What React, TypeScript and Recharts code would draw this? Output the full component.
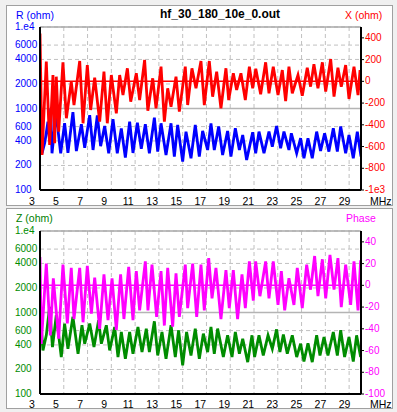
import { LineChart, Line, XAxis, YAxis, CartesianGrid, ReferenceLine } from 'recharts'

// frequency ticks (MHz)
const xTicks = [3, 5, 7, 9, 11, 13, 15, 17, 19, 21, 23, 25, 27, 29]
const logTicks = [100, 200, 400, 600, 1000, 2000, 4000, 6000, 10000]
const xOhmTicks = [-1000, -800, -600, -400, -200, 0, 200, 400]
const phaseTicks = [-100, -80, -60, -40, -20, 0, 20, 40]

// R (ohm), top panel, blue
const rFreq = [3.0, 3.17, 3.4, 3.67, 3.8, 3.9, 4.01, 4.37, 4.55, 4.74, 5.07, 5.35, 5.77, 6.06, 6.48, 6.76, 7.18, 7.46, 7.82, 8.1, 8.44, 8.78, 9.14, 9.5, 9.84, 10.18, 10.54, 10.82, 11.19, 11.52, 11.86, 12.2, 12.62, 12.9, 13.18, 13.6, 14.02, 14.3, 14.58, 15.0, 15.28, 15.7, 16.06, 16.4, 16.68, 17.1, 17.38, 17.66, 18.03, 18.36, 18.78, 19.06, 19.43, 19.77, 20.05, 20.38, 20.89, 21.14, 21.42, 21.84, 22.26, 22.54, 22.9, 23.24, 23.52, 23.94, 24.14, 24.59, 24.92, 25.2, 25.54, 25.9, 26.27, 26.6, 26.94, 27.3, 27.67, 28.01, 28.29, 28.71, 28.99, 29.35, 29.69, 30.0]
const rVals = [930, 282, 380, 690, 410, 1000, 282, 900, 490, 282, 660, 285, 900, 300, 640, 330, 830, 310, 820, 345, 610, 282, 740, 282, 570, 250, 690, 285, 670, 320, 640, 282, 770, 296, 658, 269, 658, 257, 630, 223, 520, 245, 630, 257, 530, 310, 658, 310, 602, 269, 530, 257, 574, 310, 473, 234, 511, 282, 520, 282, 520, 340, 610, 325, 520, 310, 497, 282, 432, 245, 430, 245, 520, 302, 497, 296, 574, 296, 602, 282, 473, 245, 520, 257]

// X (ohm), top panel, red
const xFreq = [3.0, 3.17, 3.53, 3.81, 4.09, 4.23, 4.37, 4.57, 4.93, 5.22, 5.63, 5.86, 6.34, 6.62, 6.98, 7.26, 7.6, 8.02, 8.38, 8.66, 9.0, 9.42, 9.7, 9.98, 10.35, 10.63, 11.1, 11.38, 11.8, 12.07, 12.48, 12.76, 13.18, 13.46, 13.74, 14.02, 14.44, 14.72, 15.22, 15.42, 15.78, 16.12, 16.54, 16.82, 17.24, 17.52, 17.86, 18.22, 18.64, 18.87, 19.26, 19.54, 19.9, 20.27, 20.61, 20.89, 21.15, 21.56, 21.98, 22.26, 22.62, 23.02, 23.38, 23.66, 23.94, 24.22, 24.7, 25.06, 25.48, 25.76, 26.04, 26.38, 26.75, 27.03, 27.45, 27.73, 28.06, 28.34, 28.71, 28.99, 29.41, 29.75, 29.92, 30.0]
const xVals = [440, -678, 181, -586, 58, -570, 43, -463, 175, -340, -3, -218, 187, -386, 150, -264, 34, -371, 89, -386, 58, -294, 58, -126, 120, -187, 74, -172, 196, -270, 28, -248, 135, -371, -64, -233, 43, -279, 135, -218, 120, -64, 187, -218, 187, -141, 89, -248, 120, -172, 74, -80, 74, -172, 135, -64, 115, -119, 175, -110, 135, -126, 104, -181, 135, -110, 58, -132, 126, -49, 157, -64, 175, -95, 205, -141, 126, -49, 150, -162, 135, -126, 104, -80]

// Z (ohm), bottom panel, green
const zFreq = [3.0, 3.25, 3.53, 3.81, 4.05, 4.37, 4.79, 5.07, 5.35, 5.77, 6.2, 6.53, 6.76, 7.18, 7.54, 7.93, 8.16, 8.58, 8.86, 9.28, 9.56, 9.84, 10.18, 10.54, 10.82, 11.24, 11.58, 11.94, 12.2, 12.62, 12.9, 13.26, 13.6, 14.02, 14.38, 14.66, 15.0, 15.33, 15.7, 16.06, 16.4, 16.74, 17.1, 17.38, 17.66, 17.94, 18.42, 18.78, 19.15, 19.43, 19.77, 20.05, 20.47, 20.83, 21.05, 21.42, 21.78, 22.18, 22.54, 22.9, 23.18, 23.47, 23.8, 24.22, 24.59, 24.92, 25.2, 25.54, 25.9, 26.27, 26.55, 26.89, 27.22, 27.67, 28.01, 28.29, 28.62, 28.99, 29.35, 29.63, 29.97]
const zVals = [1070, 343, 525, 1170, 376, 927, 284, 731, 359, 885, 312, 697, 414, 731, 376, 804, 414, 697, 343, 665, 284, 577, 270, 577, 312, 665, 327, 634, 327, 780, 297, 577, 270, 697, 284, 605, 224, 577, 297, 634, 270, 550, 327, 665, 312, 634, 284, 525, 284, 577, 312, 477, 246, 525, 284, 525, 297, 525, 359, 620, 327, 535, 312, 525, 284, 414, 250, 420, 246, 525, 297, 500, 297, 577, 297, 605, 284, 500, 250, 525, 284]

// Phase (deg), bottom panel, magenta
const pFreq = [3.0, 3.11, 3.53, 3.87, 4.12, 4.57, 4.93, 5.3, 5.63, 5.86, 6.34, 6.62, 6.98, 7.32, 7.6, 8.02, 8.38, 8.72, 9.06, 9.42, 9.78, 10.06, 10.46, 10.82, 11.1, 11.38, 11.86, 12.08, 12.42, 12.81, 13.18, 13.46, 13.74, 14.16, 14.44, 14.72, 15.22, 15.42, 15.84, 16.18, 16.54, 16.82, 17.19, 17.47, 17.8, 18.22, 18.64, 18.92, 19.26, 19.62, 19.99, 20.27, 20.61, 20.94, 21.14, 21.5, 21.98, 22.26, 22.62, 23.02, 23.3, 23.58, 23.94, 24.36, 24.64, 25.06, 25.43, 25.76, 26.1, 26.38, 26.75, 27.03, 27.39, 27.73, 28.06, 28.34, 28.71, 29.13, 29.41, 29.75, 29.97]
const pVals = [26, -54, 20, -46, 6.5, -49, 19, -35, 16, -31, 16, -34, 18, -26, 7, -40, 10, -32, 6.5, -41, 10, -31, 17, -32, 13, -23, 22, -23, 19, -29, 13, -37, 16, -38, 11, -29, 19, -21, 20, -29, 19, -23, 25, -12, 16, -31, 14, -21, 14, -31, 10, -21, 22, -14, 22, -10, 22, -12, 22, -18, 13, -23, 6.5, -18, 16, -21, 19, -4, 27, -10, 24, -12, 28, -4, 25, -20, 19, -18, 22, -23, 23]

const zip = (f: number[], v: number[]) => f.slice(0, Math.min(f.length, v.length)).map((x, i) => ({ f: x, v: v[i] }))
const rData = zip(rFreq, rVals)
const xData = zip(xFreq, xVals)
const zData = zip(zFreq, zVals)
const pData = zip(pFreq, pVals)

const FONT = 'Arial, "Liberation Sans", sans-serif'
const GRID = '#c0c0c0'

const logLabel = (v: number) => (v === 10000 ? '1.e4' : String(v))
const linLabel = (v: number) => (v === -1000 ? '-1e3' : String(v))

function leftTick(color: string) {
  return (p: any) => (
    <text x={15} y={p.y + 3} fill={color} fontSize={10} fontFamily={FONT}>{logLabel(p.payload.value)}</text>
  )
}

function rightTick(color: string) {
  return (p: any) => (
    <g>
      <line x1={361} x2={364} y1={p.y} y2={p.y} stroke="#000" />
      <text x={365} y={p.y + 3} fill={color} fontSize={10} fontFamily={FONT}>{linLabel(p.payload.value)}</text>
    </g>
  )
}

function bottomTick(base: number) {
  return (p: any) => {
    const v = p.payload.value as number
    return (
      <text x={p.x - 8 + 0.13 * (v - 3)} y={base} fill="#000" fontSize={10.5} fontFamily={FONT} textAnchor="middle">{v}</text>
    )
  }
}

type PanelProps = {
  top: number
  height: number
  leftColor: string
  rightColor: string
  leftData: { f: number; v: number }[]
  rightData: { f: number; v: number }[]
  rightDomain: [number, number]
  rightTicks: number[]
  tickBase: number
}

function Panel(p: PanelProps) {
  return (
    <div style={{ position: 'absolute', left: 0, top: p.top }}>
      <LineChart width={397} height={p.height} margin={{ top: 27, right: 0, bottom: 0, left: 0 }}>
        <CartesianGrid yAxisId="L" stroke={GRID} strokeDasharray="4 3" />
        <XAxis type="number" dataKey="f" domain={[3, 30]} ticks={xTicks} interval={0} allowDataOverflow
          height={16} axisLine={{ stroke: '#000', strokeWidth: 2 }} tickLine={false} tick={bottomTick(p.tickBase)} />
        <YAxis yAxisId="L" orientation="left" width={40} scale="log" type="number" domain={[100, 10000]}
          ticks={logTicks} interval={0} allowDataOverflow axisLine={{ stroke: '#000', strokeWidth: 2 }}
          tickLine={false} tick={leftTick(p.leftColor)} />
        <YAxis yAxisId="R" orientation="right" width={36} type="number" domain={p.rightDomain}
          ticks={p.rightTicks} interval={0} allowDataOverflow axisLine={{ stroke: '#000', strokeWidth: 2 }}
          tickLine={false} tick={rightTick(p.rightColor)} />
        <ReferenceLine yAxisId="L" y={10000} stroke="#a8a8a8" strokeWidth={1.5} />
        <ReferenceLine yAxisId="L" y={1000} stroke="#b4b4b4" strokeWidth={1.5} />
        <ReferenceLine yAxisId="R" y={0} stroke={p.rightColor} strokeWidth={1.5} />
        <Line yAxisId="L" data={p.leftData} dataKey="v" type="linear" stroke={p.leftColor} strokeWidth={2.8}
          dot={false} isAnimationActive={false} />
        <Line yAxisId="R" data={p.rightData} dataKey="v" type="linear" stroke={p.rightColor} strokeWidth={2.8}
          dot={false} isAnimationActive={false} />
      </LineChart>
    </div>
  )
}

export default function App() {
  const frame = { position: 'absolute' as const, left: 6, width: 387, background: '#fff', border: '1px solid #a0a0a0', boxSizing: 'border-box' as const }
  return (
    <div style={{ position: 'absolute', left: 0, top: 0, width: 397, height: 412, background: '#f0f0f0', overflow: 'hidden' }}>
      <div style={{ ...frame, top: 5, height: 201 }} />
      <div style={{ ...frame, top: 208, height: 201 }} />
      <Panel top={0} height={206} leftColor="#0000ff" rightColor="#ff0000" leftData={rData} rightData={xData}
        rightDomain={[-1000, 500]} rightTicks={xOhmTicks} tickBase={205} />
      <Panel top={204} height={206} leftColor="#008c00" rightColor="#ff00ff" leftData={zData} rightData={pData}
        rightDomain={[-100, 50]} rightTicks={phaseTicks} tickBase={203.5} />
      <svg width={397} height={412} style={{ position: 'absolute', left: 0, top: 0, pointerEvents: 'none' }} fontFamily={FONT} fontSize={10.5}>
        <text x={16} y={19} fill="#0000ff">R (ohm)</text>
        <text x={160} y={17.5} fill="#000" fontSize={12} fontWeight="bold">hf_30_180_10e_0.out</text>
        <text x={345} y={19} fill="#ff0000">X (ohm)</text>
        <text x={370} y={205} fill="#000">MHz</text>
        <text x={16} y={222} fill="#008000">Z (ohm)</text>
        <text x={346} y={221.5} fill="#ff00ff">Phase</text>
        <text x={370} y={407.5} fill="#000">MHz</text>
      </svg>
    </div>
  )
}
